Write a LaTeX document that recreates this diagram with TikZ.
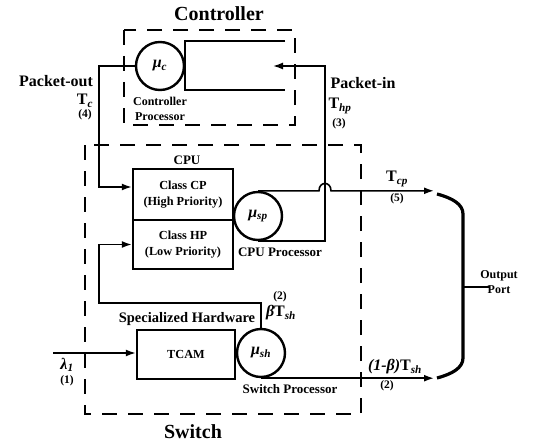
\documentclass[tikz,border=0pt]{standalone}
\usepackage{fontspec}
\setmainfont{Liberation Serif}
\usetikzlibrary{arrows.meta,positioning,calc}
\newcommand{\sub}[1]{\textsubscript{\itshape #1}}

\begin{document}
\begin{tikzpicture}[x=1pt, y=-1pt,
    every node/.style={font=\bfseries, inner sep=0pt},
    title/.style={font=\fontsize{20}{22}\selectfont\bfseries},
    lbl/.style={font=\fontsize{16}{18}\selectfont\bfseries},
    caption/.style={font=\fontsize{13}{15}\selectfont\bfseries, align=center},
    small/.style={font=\fontsize{12}{14.5}\selectfont\bfseries, align=center},
    num/.style={font=\fontsize{11.5}{13}\selectfont\bfseries},
    queue/.style={draw, line width=2.4pt, rectangle, minimum width=100pt, align=center,
                  font=\fontsize{12.3}{15.5}\selectfont\bfseries},
    proc/.style={draw, line width=2.4pt, circle, minimum size=48pt,
                 font=\fontsize{16}{18}\selectfont\bfseries},
    region/.style={draw, line width=2.6pt, dash pattern=on 15pt off 11pt},
    arr/.style={-{Latex[length=10pt,width=7pt]}, line width=1.6pt},
    port/.style={line width=3.2pt}
  ]
  \useasboundingbox (0,0) rectangle (533,444);

  % Regions
  \draw[region] (124,30) rectangle (295,125);
  \draw[region] (85,145) rectangle (361,414);
  \node[title] (ctrltitle) at (219,14) {Controller};
  \node[title] (swtitle) at (193,432) {Switch};

  % Queues and processors
  \node[proc] (muc) at (160,66) {\textit{μ}\sub{c}};
  \node[queue, minimum height=51pt] (cp) at (183,194.5) {Class CP\\(High Priority)};
  \node[queue, minimum height=49pt] (hp) at (183,244.5) {Class HP\\(Low Priority)};
  \node[proc] (musp) at (258,216) {\textit{μ}\sub{sp}};
  \node[queue, minimum width=98pt, minimum height=49pt] (tcam) at (186,354.5) {TCAM};
  \node[proc] (mush) at (261,353) {\textit{μ}\sub{sh}};
  \draw[line width=2.4pt] (285,41) -- (muc.east |- 0,41) -- (muc.east |- 0,90) -- (285,90);

  % Free ends
  \coordinate (qin) at (273,66);
  \coordinate (lamin) at (53,353);
  \coordinate (optop) at (434,193);
  \coordinate (opbot) at (434,378);

  % Output port
  \draw[port] (437,194) .. controls (452,198) and (463,204) .. (463,214) -- (463,358)
    .. controls (463,368) and (452,374) .. (437,378);
  \draw[line width=2.4pt] (463,287) -- (489,287);

  % Connectors
  \draw[arr] (musp.south) -| (325,66) -- (qin);
  \draw[arr] (muc.west) -| (99,187) -- (cp.west |- 0,187);
  \draw[arr] (mush.north) |- (99,303) |- (hp.west);
  \draw[arr] (lamin) -- (tcam.west |- lamin);
  \draw[arr] (musp.north) -- (319,190.8) .. controls (319,181) and (331,181) .. (331,190.8)
    -- (optop |- musp.north);
  \draw[arr] (mush.south) -- (opbot |- mush.south);

  % Labels
  \node[lbl] (pout) at (56,81) {Packet-out};
  \node[lbl] (tc) at (85,101) {T\sub{c}};
  \node[num] (n4) at (85,115) {(4)};
  \node[lbl] (pin) at (363,83) {Packet-in};
  \node[lbl] (thp) at (340,106) {T\sub{hp}};
  \node[num] (n3) at (339,124) {(3)};
  \node[small] (ctrlproc) at (160,109) {Controller\\Processor};
  \node[caption] (cpu) at (187,160) {CPU};
  \node[caption] (cpuproc) at (280,252) {CPU Processor};
  \node[lbl] (tcp) at (397,179) {T\sub{cp}};
  \node[num] (n5) at (397,199) {(5)};
  \node[small] (outport) at (499,282) {Output\\Port};
  \node[num] (n2a) at (280,297) {(2)};
  \node[lbl] (btsh) at (281,313) {\textit{β}T\sub{sh}};
  \node[font=\fontsize{14.5}{16}\selectfont\bfseries] (spechw) at (187,319) {Specialized Hardware};
  \node[lbl] (lam) at (67,365) {\textit{λ}\sub{1}};
  \node[num] (n1) at (67,381) {(1)};
  \node[lbl] (obsh) at (395,367) {\textit{(1-β)}T\sub{sh}};
  \node[num] (n2b) at (387,386) {(2)};
  \node[caption] (swproc) at (290,389) {Switch Processor};
\end{tikzpicture}
\end{document}
